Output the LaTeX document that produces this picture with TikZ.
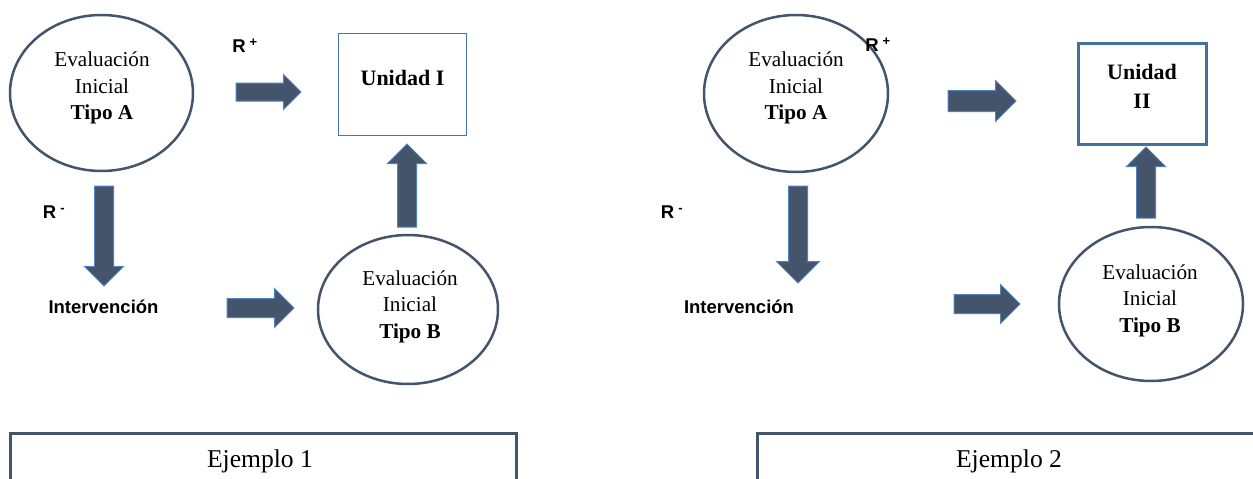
\documentclass[tikz,border=0pt]{standalone}
\usepackage{fontspec}
\setmainfont{Liberation Serif}
\newfontfamily\arial{Liberation Sans}
\usepackage{xcolor}
\usetikzlibrary{shapes.geometric,shapes.arrows}
\definecolor{pizarra}{HTML}{44546A}
\definecolor{bordeazul}{HTML}{4F81BD}
\definecolor{cajaazul}{HTML}{4472C4}
\definecolor{cajaborde}{HTML}{41719C}
\tikzset{
  evalnodo/.style={ellipse, draw=pizarra, line width=2.5pt, inner sep=0pt},
  evaltexto/.style={font=\fontsize{21.2}{26.5}\selectfont, align=center, inner sep=0pt},
  flecha/.style={single arrow, draw=bordeazul, fill=pizarra, line width=1pt, inner xsep=0pt,
    inner ysep=9pt, single arrow head extend=10pt, anchor=tail},
  rtexto/.style={font=\arial\bfseries\fontsize{18.5}{22}\selectfont, inner sep=0pt},
  ejtexto/.style={font=\fontsize{25.6}{30}\selectfont, inner sep=0pt},
}
\begin{document}
\begin{tikzpicture}[x=1pt,y=-1pt]
\useasboundingbox (0,0) rectangle (1253,479);
\node[evalnodo, minimum width=183pt, minimum height=156pt] (evalA) at (101.5,93) {};
\node[evaltexto] (textoA) at (102,88) {Evaluación\\Inicial\\\textbf{Tipo A}};
\node[draw=cajaazul, line width=1.2pt, minimum width=128pt, minimum height=102pt] (unidadI) at (402.5,84.5) {};
\node[evaltexto, font=\bfseries\fontsize{22}{26}\selectfont] (textoI) at (402.5,78) {Unidad I};
\node[rtexto] (rmasI) at (245,46) {R\hspace{4pt}\textsuperscript{+}};
\node[flecha, minimum height=65pt, inner ysep=8.5pt, single arrow head extend=8.5pt] (f1) at (235.5,92) {};
\node[rtexto] (rmenosI) at (54,212) {R\hspace{4pt}\textsuperscript{-}};
\node[flecha, minimum height=100pt, rotate=-90] (f2) at (104,185.5) {};
\node[rtexto] (intervI) at (103.5,307) {Intervención};
\node[flecha, minimum height=67pt] (f3) at (226.5,308) {};
\node[evalnodo, minimum width=180pt, minimum height=149pt] (evalB) at (408,309.5) {};
\node[evaltexto] (textoB) at (410,306.5) {Evaluación\\Inicial\\\textbf{Tipo B}};
\node[flecha, minimum height=83pt, rotate=90] (f4) at (407,227.5) {};
\draw[pizarra, line width=3pt] (10,495) -- (10,433) -- (516,433) -- (516,495);
\node[ejtexto] (ejI) at (260,461) {Ejemplo 1};
\node[evalnodo, minimum width=184pt, minimum height=157pt] (evalA2) at (796,93.5) {};
\node[evaltexto] (textoA2) at (796,88) {Evaluación\\Inicial\\\textbf{Tipo A}};
\node[rtexto] (rmasII) at (878,45) {R\hspace{4pt}\textsuperscript{+}};
\node[flecha, minimum height=68pt, inner ysep=10pt] (f5) at (947.5,101) {};
\node[draw=cajaborde, line width=3pt, minimum width=128pt, minimum height=101pt] (unidadII) at (1142.5,94) {};
\node[evaltexto, font=\bfseries\fontsize{22}{29}\selectfont] (textoII) at (1142,86.5) {Unidad\\II};
\node[rtexto] (rmenosII) at (672,212) {R\hspace{4pt}\textsuperscript{-}};
\node[flecha, minimum height=97pt, single arrow head extend=12pt, rotate=-90] (f6) at (798,185.5) {};
\node[rtexto] (intervII) at (739,307) {Intervención};
\node[flecha, minimum height=66pt] (f7) at (953.5,304) {};
\node[evalnodo, minimum width=184pt, minimum height=154pt] (evalB2) at (1151,304) {};
\node[evaltexto] (textoB2) at (1150,300.5) {Evaluación\\Inicial\\\textbf{Tipo B}};
\node[flecha, minimum height=71pt, rotate=90] (f8) at (1146,218.5) {};
\draw[pizarra, line width=3pt] (757,495) -- (757,433) -- (1260,433);
\node[ejtexto] (ejII) at (1009,461) {Ejemplo 2};
\end{tikzpicture}
\end{document}
